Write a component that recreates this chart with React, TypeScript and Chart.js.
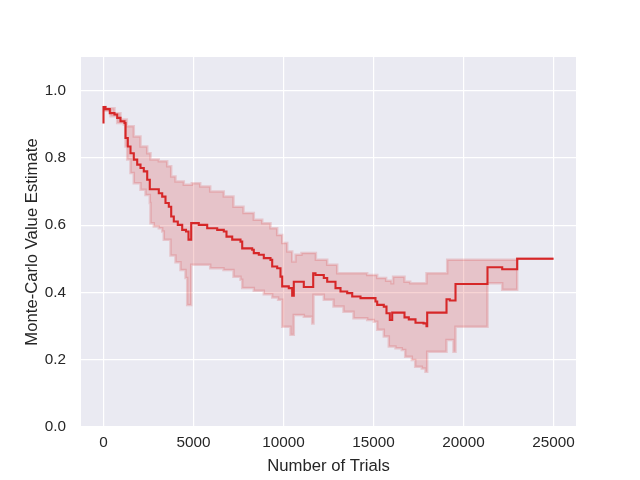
import React, { useEffect, useRef } from "react";
import { Chart, registerables } from "chart.js";

Chart.register(...registerables);

// Mean value estimate (step function: each value holds from its x onward)
const meanX = [0, 0, 111, 350, 611, 761, 944, 1167, 1222, 1350, 1500, 1683, 1872, 2056, 2239, 2428, 2572, 3072, 3261, 3444, 3628, 3761, 3906, 4128, 4372, 4583, 4722, 4872, 5294, 5761, 6317, 6683, 6833, 7150, 7611, 7706, 8261, 8350, 8628, 8906, 9278, 9372, 9650, 9833, 9928, 10294, 10483, 10572, 11128, 11650, 11778, 12239, 12428, 12889, 13167, 13539, 13817, 14278, 15111, 15206, 15572, 15722, 15906, 16039, 16722, 16961, 17333, 17778, 17944, 17983, 19056, 19239, 19556, 21333, 22150, 22983, 25000];
const meanY = [0.902, 0.951, 0.945, 0.933, 0.929, 0.919, 0.909, 0.904, 0.859, 0.834, 0.814, 0.795, 0.780, 0.770, 0.760, 0.735, 0.707, 0.695, 0.685, 0.666, 0.655, 0.626, 0.611, 0.601, 0.586, 0.581, 0.557, 0.606, 0.601, 0.591, 0.586, 0.581, 0.566, 0.557, 0.551, 0.531, 0.527, 0.517, 0.512, 0.502, 0.497, 0.477, 0.472, 0.447, 0.418, 0.413, 0.390, 0.432, 0.416, 0.457, 0.452, 0.443, 0.432, 0.413, 0.403, 0.398, 0.388, 0.383, 0.373, 0.363, 0.358, 0.338, 0.318, 0.340, 0.326, 0.320, 0.310, 0.308, 0.300, 0.340, 0.380, 0.376, 0.425, 0.475, 0.469, 0.500, 0.500];

// Upper edge of the confidence band (step function)
const upperX = [0, 111, 611, 944, 1296, 1683, 2056, 2428, 2611, 3072, 3539, 3761, 4000, 4461, 4906, 5372, 5928, 6683, 7222, 7778, 8350, 8817, 9278, 9650, 9928, 10206, 10483, 10667, 11000, 11800, 12428, 12983, 14650, 15206, 15700, 16000, 16090, 16722, 17037, 17944, 19094, 22983, 25000];
const upperY = [0.951, 0.948, 0.933, 0.914, 0.894, 0.864, 0.834, 0.814, 0.795, 0.790, 0.775, 0.745, 0.730, 0.720, 0.725, 0.715, 0.700, 0.685, 0.655, 0.636, 0.616, 0.606, 0.591, 0.571, 0.547, 0.522, 0.492, 0.512, 0.517, 0.497, 0.482, 0.457, 0.452, 0.443, 0.435, 0.427, 0.447, 0.432, 0.427, 0.457, 0.497, 0.500, 0.500];

// Lower edge of the confidence band (step function)
const lowerX = [0, 390, 761, 1128, 1222, 1317, 1500, 1683, 2056, 2333, 2572, 2611, 2794, 3072, 3261, 3350, 3722, 4000, 4278, 4556, 4650, 4872, 5928, 6667, 7222, 7611, 7706, 8350, 8906, 9372, 9700, 9928, 10389, 10572, 11128, 11594, 11667, 12239, 12778, 13333, 13889, 14650, 15017, 15206, 15572, 15850, 16222, 16572, 16761, 17128, 17317, 17683, 17889, 17983, 19056, 19444, 19556, 21333, 22150, 22983, 25000];
const lowerY = [0.940, 0.924, 0.904, 0.899, 0.834, 0.795, 0.755, 0.725, 0.705, 0.690, 0.666, 0.606, 0.596, 0.591, 0.581, 0.557, 0.510, 0.490, 0.467, 0.443, 0.363, 0.482, 0.472, 0.467, 0.447, 0.438, 0.413, 0.405, 0.395, 0.385, 0.378, 0.298, 0.274, 0.333, 0.328, 0.308, 0.393, 0.378, 0.358, 0.343, 0.323, 0.318, 0.313, 0.289, 0.269, 0.239, 0.234, 0.229, 0.209, 0.199, 0.179, 0.174, 0.164, 0.224, 0.259, 0.224, 0.298, 0.427, 0.408, 0.500, 0.500];

const xTicks = [0, 5000, 10000, 15000, 20000, 25000];
const yTicks = [0.0, 0.2, 0.4, 0.6, 0.8, 1.0];

const LINE = "rgb(214, 39, 40)";
const FONT = "'Liberation Sans', Arial, sans-serif";
const TEXT = "#262626";

export default function App() {
  const ref = useRef<HTMLCanvasElement | null>(null);
  useEffect(() => {
    if (!ref.current) return;
    const bgPlugin = {
      id: "bg",
      beforeDraw(chart: any) {
        const { ctx, chartArea } = chart;
        ctx.save();
        ctx.fillStyle = "#eaeaf2";
        ctx.fillRect(chartArea.left, chartArea.top, chartArea.right - chartArea.left, chartArea.bottom - chartArea.top);
        ctx.restore();
      },
    };
    const chart = new Chart(ref.current, {
      type: "line",
      data: {
        datasets: [
          {
            label: "mean",
            data: meanX.map((x, i) => ({ x, y: meanY[i] })),
            borderColor: LINE,
            borderWidth: 2.1,
            stepped: "before",
            pointRadius: 0,
            fill: false,
          },
          {
            label: "upper",
            data: upperX.map((x, i) => ({ x, y: upperY[i] })),
            borderColor: "rgba(214, 39, 40, 0.18)",
            borderWidth: 2.5,
            backgroundColor: "rgba(214, 39, 40, 0.2)",
            stepped: "before",
            pointRadius: 0,
            fill: "+1",
          },
          {
            label: "lower",
            data: lowerX.map((x, i) => ({ x, y: lowerY[i] })),
            borderColor: "rgba(214, 39, 40, 0.18)",
            borderWidth: 2.5,
            stepped: "before",
            pointRadius: 0,
            fill: false,
          },
        ],
      },
      options: {
        animation: false,
        responsive: false,
        maintainAspectRatio: false,
        layout: { padding: { left: 0, right: 64, top: 57, bottom: 0 } },
        plugins: { legend: { display: false }, tooltip: { enabled: false } },
        scales: {
          x: {
            type: "linear",
            min: -1250,
            max: 26250,
            afterFit: (s: any) => { s.height = 53; },
            afterBuildTicks: (s: any) => { s.ticks = xTicks.map((v) => ({ value: v })); },
            grid: { color: "#ffffff", lineWidth: 1.2, drawTicks: false },
            border: { display: false },
            ticks: {
              padding: 7,
              color: TEXT,
              font: { family: FONT, size: 15.3 },
              callback: (v: any) => String(v),
              maxRotation: 0,
            },
            title: {
              display: true,
              text: "Number of Trials",
              color: TEXT,
              font: { family: FONT, size: 16.7 },
              padding: { top: 0, bottom: 4 },
            },
          },
          y: {
            type: "linear",
            min: 0,
            max: 1.1,
            afterFit: (s: any) => { s.width = 81; },
            afterBuildTicks: (s: any) => { s.ticks = yTicks.map((v) => ({ value: v })); },
            grid: { color: "#ffffff", lineWidth: 1.2, drawTicks: false },
            border: { display: false },
            ticks: {
              padding: 15,
              color: TEXT,
              font: { family: FONT, size: 15.3 },
              callback: (v: any) => Number(v).toFixed(1),
            },
            title: {
              display: true,
              text: "Monte-Carlo Value Estimate",
              color: TEXT,
              font: { family: FONT, size: 16.7 },
              padding: { top: 22, bottom: 0 },
            },
          },
        },
      },
      plugins: [bgPlugin],
    });
    return () => chart.destroy();
  }, []);
  return (
    <div style={{ position: "fixed", left: 0, top: 0, width: 640, height: 480, background: "#ffffff" }}>
      <canvas ref={ref} width={640} height={480} style={{ width: 640, height: 480 }} />
    </div>
  );
}
